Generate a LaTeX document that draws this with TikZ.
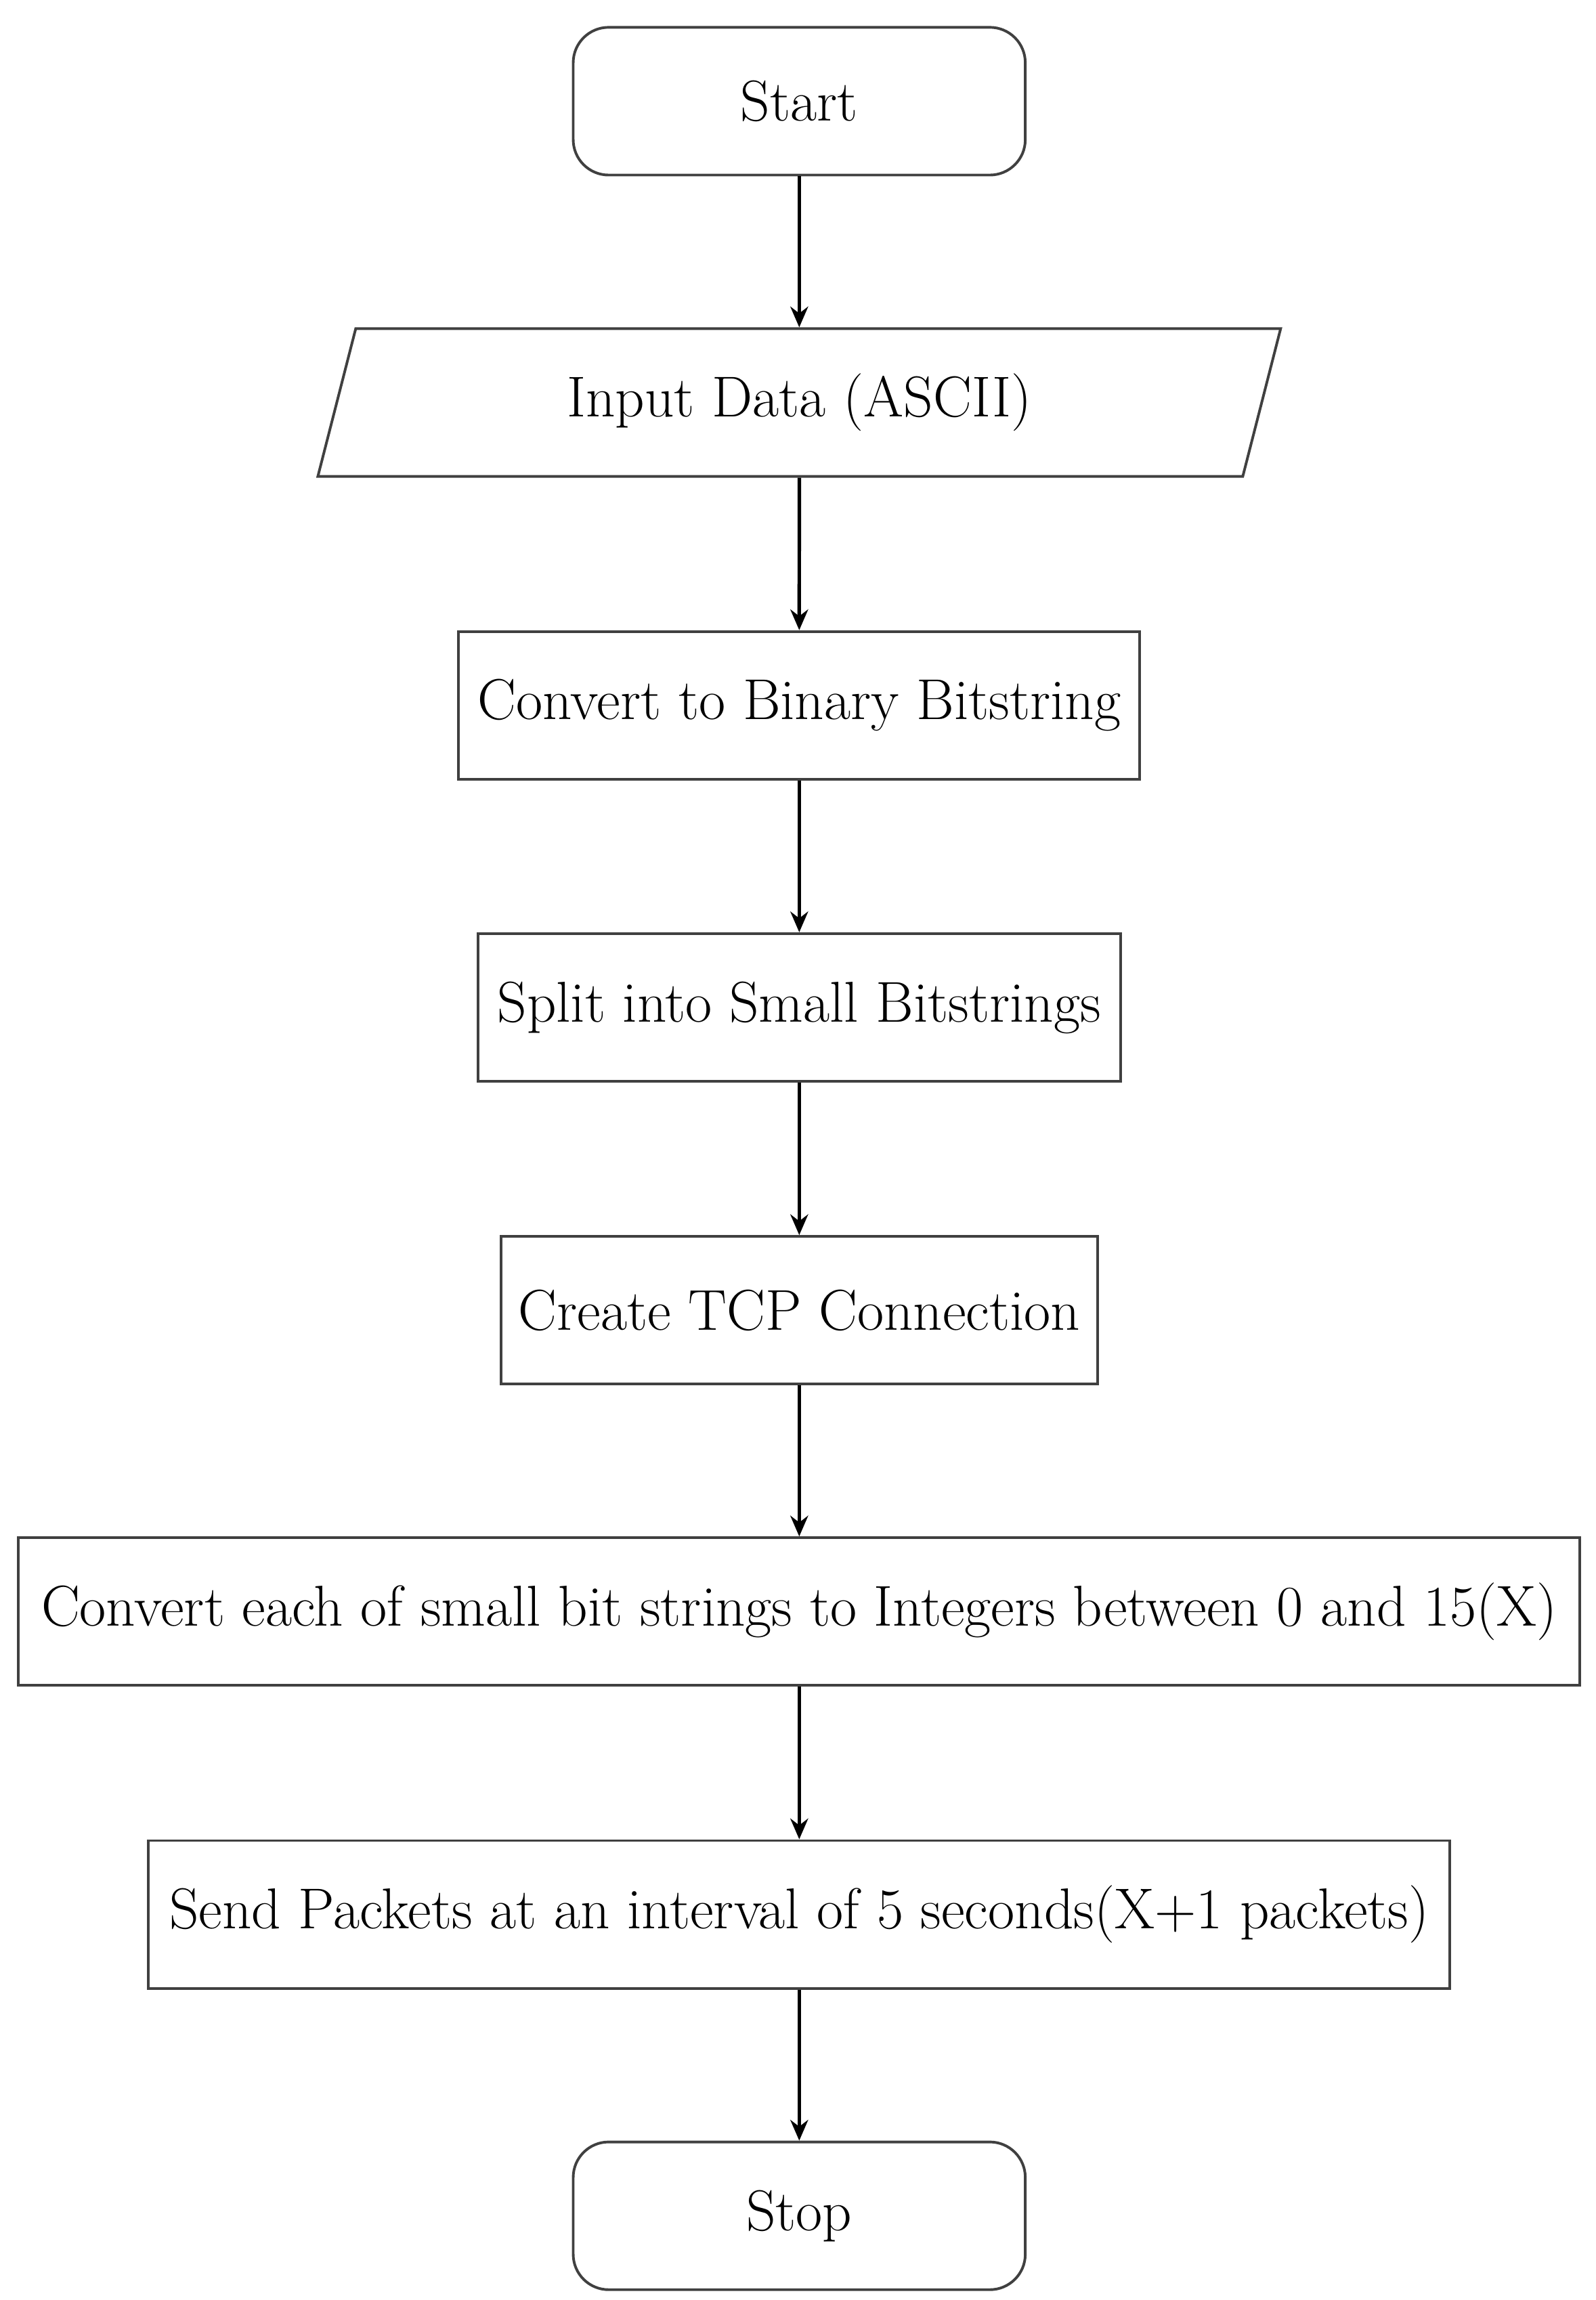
\documentclass[tikz,border=0pt]{standalone}
\usetikzlibrary{shapes.geometric,arrows.meta}
\begin{document}
\begin{tikzpicture}[x=0.5pt,y=-0.5pt,
  every node/.style={font=\fontsize{19.5}{23}\selectfont},
  proc/.style={draw=black!75,line width=0.9pt,minimum height=50pt,inner sep=0pt},
  term/.style={proc,rounded corners=12pt,minimum width=153pt},
  io/.style={proc,trapezium,trapezium left angle=71,trapezium right angle=109,trapezium stretches=true,minimum width=326pt},
  arr/.style={-{Stealth[length=7pt,width=6pt]},line width=1.2pt}]
\useasboundingbox (0,0) rectangle (1080,1557);
\node[term] (start) at (541,68.5) {Start};
\node[io] (input) at (541,272.5) {Input Data (ASCII)};
\node[proc,minimum width=230.5pt] (bin) at (541,477.5) {Convert to Binary Bitstring};
\node[proc,minimum width=217.5pt] (split) at (541,682) {Split into Small Bitstrings};
\node[proc,minimum width=202pt] (tcp) at (541,887) {Create TCP Connection};
\node[proc,minimum width=528.5pt] (int) at (541,1091) {Convert each of small bit strings to Integers between 0 and 15(X)};
\node[proc,minimum width=440.5pt] (send) at (541,1296) {Send Packets at an interval of 5 seconds(X+1 packets)};
\node[term] (stop) at (541,1500) {Stop};
\draw[arr] (start) -- (input);
\draw[arr] (input) -- (bin);
\draw[arr] (bin) -- (split);
\draw[arr] (split) -- (tcp);
\draw[arr] (tcp) -- (int);
\draw[arr] (int) -- (send);
\draw[arr] (send) -- (stop);
\end{tikzpicture}
\end{document}
